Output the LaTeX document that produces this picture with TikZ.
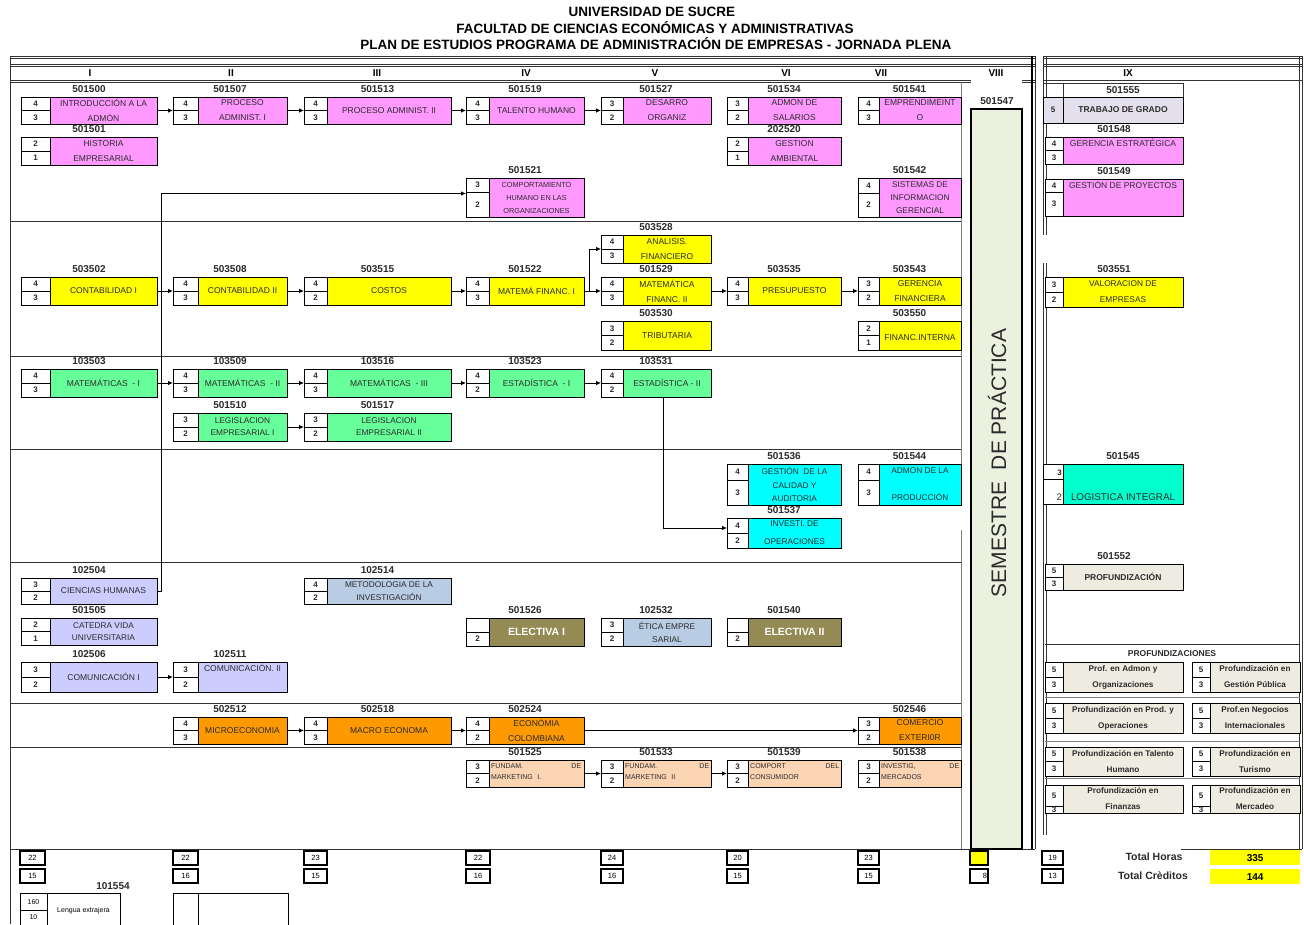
\documentclass[tikz,border=0pt]{standalone}
\usepackage{fontspec}
\setmainfont{Liberation Sans}
\usetikzlibrary{arrows.meta}
\definecolor{cpink}{HTML}{FF99FF}
\definecolor{cyel}{HTML}{FFFF00}
\definecolor{cgrn}{HTML}{66FF99}
\definecolor{ccyan}{HTML}{00FFFF}
\definecolor{clav}{HTML}{CCCCFF}
\definecolor{cstb}{HTML}{B8CCE4}
\definecolor{colive}{HTML}{948A54}
\definecolor{corng}{HTML}{FF9900}
\definecolor{cpeach}{HTML}{FBD4B4}
\definecolor{caqua}{HTML}{00FFCC}
\definecolor{cbeige}{HTML}{EEECE1}
\definecolor{clgrey}{HTML}{E4DFEC}
\definecolor{cpract}{HTML}{EBF1DE}
\definecolor{ctxt}{HTML}{2B2B2B}
\newcommand\myfs[2]{\fontsize{#1}{#2}\selectfont}
\def\spl{}
\newcommand\setsplit[1]{\gdef\spl{#1}}
\def\colAI{21}\def\colBI{50}\def\colCI{157}
\def\colAII{173}\def\colBII{198}\def\colCII{287}
\def\colAIII{304}\def\colBIII{327}\def\colCIII{451}
\def\colAIV{466}\def\colBIV{489}\def\colCIV{584}
\def\colAV{601}\def\colBV{623}\def\colCV{711}
\def\colAVI{727}\def\colBVI{748}\def\colCVI{841}
\def\colAVII{858}\def\colBVII{879}\def\colCVII{961}
\def\colAIX{1045}\def\colBIX{1063}\def\colCIX{1183}
\def\colAPa{1045}\def\colBPa{1063}\def\colCPa{1183}
\def\colAPb{1192}\def\colBPb{1210}\def\colCPb{1300}
% #1 name, #2 column, #3 top, #4 bottom, #5 fill, #6 code, #7 upper number, #8 lower number, #9 text
\newcommand\crs[9]{%
  \edef\cXa{\csname colA#2\endcsname}%
  \edef\cXb{\csname colB#2\endcsname}%
  \edef\cXc{\csname colC#2\endcsname}%
  \ifx\spl\empty\pgfmathsetmacro\cYm{(#3+#4)/2}\else\edef\cYm{\spl}\fi
  \pgfmathsetmacro\cXn{(\cXa+\cXb)/2}%
  \pgfmathsetmacro\cXm{(\cXa+\cXc)/2}%
  \pgfmathsetmacro\cYu{(#3+\cYm)/2}%
  \pgfmathsetmacro\cYl{(\cYm+#4)/2}%
  \pgfmathsetmacro\cYc{#3-8}%
  \node[ncell,minimum width={(\cXb-\cXa)*1pt},minimum height={(#4-#3)*1pt}] (#1n) at (\cXa,#3) {};
  \node[cbox,fill=#5,minimum width={(\cXc-\cXb)*1pt},minimum height={(#4-#3)*1pt}] (#1) at (\cXb,#3) {};
  \draw[cellrule] (\cXa,\cYm) -- (\cXb,\cYm);
  \node[cnum] (#1u) at (\cXn,\cYu) {#7};
  \node[cnum] (#1l) at (\cXn,\cYl) {#8};
  \if\relax\detokenize{#6}\relax\else\node[ccode] (#1k) at (\cXm,\cYc) {#6};\fi
  \node[btext,curts] (#1t) at (#1.center) {#9};
  \tikzset{curts/.style={}}%
  \gdef\spl{}%
}
\newcommand\pcrs[5]{\tikzset{curts/.style={font=\myfs{8.2}{16}\bfseries}}\crs{#1}{#2}{#3}{#4}{cbeige}{}{5}{3}{#5}}
\begin{document}
\begin{tikzpicture}[x=1pt,y=-1pt,
  cbox/.style={draw=black,line width=0.9pt,inner sep=0pt,outer sep=0pt,anchor=north west},
  ncell/.style={cbox,fill=white},
  cellrule/.style={line width=0.7pt},
  ccode/.style={font=\myfs{10}{10}\bfseries,text=ctxt,inner sep=0pt},
  cnum/.style={font=\myfs{8}{8}\bfseries,text=ctxt,inner sep=0pt},
  btext/.style={font=\myfs{8.5}{15},align=center,text=ctxt,inner sep=0pt},
  mtext/.style={font=\myfs{7}{10.5},align=left,text=ctxt,inner sep=0pt,anchor=north west},
  ttl/.style={font=\myfs{13.5}{14}\bfseries,inner sep=0pt},
  rom/.style={font=\myfs{10}{10}\bfseries,inner sep=0pt},
  arr/.style={-{Latex[length=5pt,width=4.5pt]},line width=0.8pt},
  frule/.style={line width=0.8pt,draw=black!80},
  trule/.style={line width=0.6pt,draw=black!50},
  tot/.style={draw=black,line width=1.3pt,inner sep=0pt,outer sep=0pt,anchor=north west,minimum height=14pt,font=\myfs{7.5}{8}},
  curts/.style={}]
\useasboundingbox (0,0) rectangle (1304,924);
\fill[white] (0,0) rectangle (1304,924);
% titles
\node[ttl] (t1) at (652,12) {UNIVERSIDAD DE SUCRE};
\node[ttl] (t2) at (655,28) {FACULTAD DE CIENCIAS ECONÓMICAS Y ADMINISTRATIVAS};
\node[ttl] (t3) at (656,44) {PLAN DE ESTUDIOS PROGRAMA DE ADMINISTRACIÓN DE EMPRESAS - JORNADA PLENA};
% left frame
\draw[frule] (10,56) -- (1035,56) (10,58.5) -- (1035,58.5) (10,64) -- (1035,64) (10,66.5) -- (1035,66.5);
\draw[frule] (10,80) -- (971,80) (1022,80) -- (1035,80) (10,82.5) -- (971,82.5) (1022,82.5) -- (1035,82.5);
\draw[frule] (10,56) -- (10,924);
\draw[line width=1.5pt] (1032,56) -- (1032,849);
\draw[frule] (1035.5,56) -- (1035.5,849);
\draw[trule] (961,82) -- (961,505) (961,530) -- (961,849);
\foreach \yy in {221,356,449,562,703,747} \draw[frule] (10,\yy) -- (961,\yy);
\draw[frule] (10,849) -- (1035,849);
% right frame
\draw[frule] (1043,56) -- (1302,56) (1043,58.5) -- (1302,58.5) (1043,64) -- (1302,64) (1043,66.5) -- (1302,66.5) (1043,80) -- (1302,80);
\draw[frule] (1043,56) -- (1043,235) (1046,56) -- (1046,235) (1043,263) -- (1043,464) (1046,263) -- (1046,464) (1043,505) -- (1043,835) (1046,505) -- (1046,835);
\draw[frule] (1299,56) -- (1299,849) (1302,56) -- (1302,849);
\draw[frule] (1045,644) -- (1300,644);
\draw[trule] (1045,697) -- (1300,697) (1045,741) -- (1300,741) (1045,778) -- (1300,778);
\draw[frule] (1181,849) -- (1302,849);
% semester numerals
\foreach \r/\xx [count=\i] in {I/90,II/231,III/377,IV/526,V/655,VI/786,VII/881,VIII/996,IX/1128}
  \node[rom] (rom\i) at (\xx,73) {\r};
% ---- row 1 (pink)
\crs{c501500}{I}{97}{124}{cpink}{501500}{4}{3}{INTRODUCCIÓN A LA\\ADMÓN}
\crs{c501507}{II}{97}{124}{cpink}{501507}{4}{3}{PROCESO\\ADMINIST. I}
\crs{c501513}{III}{97}{124}{cpink}{501513}{4}{3}{PROCESO ADMINIST. II}
\crs{c501519}{IV}{97}{124}{cpink}{501519}{4}{3}{TALENTO HUMANO}
\crs{c501527}{V}{97}{124}{cpink}{501527}{3}{2}{DESARRO\\ORGANIZ}
\crs{c501534}{VI}{97}{124}{cpink}{501534}{3}{2}{ADMON DE\\SALARIOS}
\crs{c501541}{VII}{97}{124}{cpink}{501541}{4}{3}{EMPRENDIMEINT\\O}
\crs{c501501}{I}{137}{165}{cpink}{501501}{2}{1}{HISTORIA\\EMPRESARIAL}
\crs{c202520}{VI}{137}{165}{cpink}{202520}{2}{1}{GESTION\\AMBIENTAL}
\tikzset{curts/.style={font=\myfs{7.3}{13}}}\setsplit{192}
\crs{c501521}{IV}{178}{217}{cpink}{501521}{3}{2}{COMPORTAMIENTO\\HUMANO EN LAS\\ORGANIZACIONES}
\tikzset{curts/.style={font=\myfs{8.3}{13}}}\setsplit{193}
\crs{c501542}{VII}{178}{217}{cpink}{501542}{4}{2}{SISTEMAS DE\\INFORMACION\\GERENCIAL}
% ---- row 2 (yellow)
\crs{c503528}{V}{235}{263}{cyel}{503528}{4}{3}{ANALISIS.\\FINANCIERO}
\crs{c503502}{I}{277}{305}{cyel}{503502}{4}{3}{CONTABILIDAD I}
\crs{c503508}{II}{277}{305}{cyel}{503508}{4}{3}{CONTABILIDAD II}
\crs{c503515}{III}{277}{305}{cyel}{503515}{4}{2}{COSTOS}
\crs{c501522}{IV}{277}{305}{cyel}{501522}{4}{3}{MATEMÁ FINANC. I}
\crs{c501529}{V}{277}{305}{cyel}{501529}{4}{3}{MATEMÁTICA\\FINANC. II}
\crs{c503535}{VI}{277}{305}{cyel}{503535}{4}{3}{PRESUPUESTO}
\crs{c503543}{VII}{277}{305}{cyel}{503543}{3}{2}{GERENCIA\\FINANCIERA}
\crs{c503530}{V}{321}{350}{cyel}{503530}{3}{2}{TRIBUTARIA}
\crs{c503550}{VII}{321}{350}{cyel}{503550}{2}{1}{}
\node[btext] (c503550x) at (920,338) {FINANC.INTERNA};
% ---- row 3 (green)
\crs{c103503}{I}{369}{397}{cgrn}{103503}{4}{3}{MATEMÁTICAS\ \ - I}
\crs{c103509}{II}{369}{397}{cgrn}{103509}{4}{3}{MATEMÁTICAS\ \ - II}
\crs{c103516}{III}{369}{397}{cgrn}{103516}{4}{3}{MATEMÁTICAS\ \ - III}
\crs{c103523}{IV}{369}{397}{cgrn}{103523}{4}{2}{ESTADÍSTICA\ \ - I}
\crs{c103531}{V}{369}{397}{cgrn}{103531}{4}{2}{ESTADÍSTICA - II}
\tikzset{curts/.style={font=\myfs{8.3}{12}}}
\crs{c501510}{II}{413}{441}{cgrn}{501510}{3}{2}{LEGISLACION\\EMPRESARIAL I}
\tikzset{curts/.style={font=\myfs{8.3}{12}}}
\crs{c501517}{III}{413}{441}{cgrn}{501517}{3}{2}{LEGISLACION\\EMPRESARIAL II}
% ---- row 4 (cyan)
\tikzset{curts/.style={font=\myfs{8.3}{13.5}}}\setsplit{480}
\crs{c501536}{VI}{464}{505}{ccyan}{501536}{4}{3}{GESTIÓN\ \ DE LA\\CALIDAD Y\\AUDITORIA}
\tikzset{curts/.style={font=\myfs{8.3}{13.5}}}\setsplit{480}
\crs{c501544}{VII}{464}{505}{ccyan}{501544}{4}{3}{ADMON DE LA\\[13.5pt]PRODUCCIÓN}
\tikzset{curts/.style={font=\myfs{8.3}{18}}}
\crs{c501537}{VI}{518}{548}{ccyan}{501537}{4}{2}{INVESTI. DE\\OPERACIONES}
% ---- row 5 (lavender)
\crs{c102504}{I}{578}{604}{clav}{102504}{3}{2}{CIENCIAS HUMANAS}
\tikzset{curts/.style={font=\myfs{8.3}{13}}}
\crs{c102514}{III}{578}{604}{cstb}{102514}{4}{2}{METODOLOGIA DE LA\\INVESTIGACIÓN}
\tikzset{curts/.style={font=\myfs{8.3}{12.5}}}
\crs{c501505}{I}{618}{645}{clav}{501505}{2}{1}{CATEDRA VIDA\\UNIVERSITARIA}
\tikzset{curts/.style={text=white,font=\myfs{10.5}{12}\bfseries}}
\crs{c501526}{IV}{618}{646}{colive}{501526}{}{2}{ELECTIVA I}
\tikzset{curts/.style={font=\myfs{8.3}{13}}}
\crs{c102532}{V}{618}{646}{cstb}{102532}{3}{2}{ÉTICA EMPRE\\SARIAL}
\tikzset{curts/.style={text=white,font=\myfs{10.5}{12}\bfseries}}
\crs{c501540}{VI}{618}{646}{colive}{501540}{}{2}{ELECTIVA II}
\crs{c102506}{I}{662}{692}{clav}{102506}{3}{2}{COMUNICACIÓN I}
\crs{c102511}{II}{662}{692}{clav}{102511}{3}{2}{}
\node[btext,anchor=north] (c102511x) at (242.5,664) {COMUNICACIÓN. II};
% ---- row 6 (orange)
\crs{c502512}{II}{717}{744}{corng}{502512}{4}{3}{MICROECONOMIA}
\crs{c502518}{III}{717}{744}{corng}{502518}{4}{3}{MACRO ECONOMA}
\crs{c502524}{IV}{717}{744}{corng}{502524}{4}{2}{ECONÓMIA\\COLOMBIANA}
\crs{c502546}{VII}{717}{744}{corng}{502546}{3}{2}{COMERCIO\\EXTERI0R}
% ---- row 7 (marketing)
\crs{c501525}{IV}{760}{787}{cpeach}{501525}{3}{2}{}
\crs{c501533}{V}{760}{787}{cpeach}{501533}{3}{2}{}
\crs{c501539}{VI}{760}{787}{cpeach}{501539}{3}{2}{}
\crs{c501538}{VII}{760}{787}{cpeach}{501538}{3}{2}{}
\node[mtext,text width=90pt] (c501525x) at (491,763.5) {FUNDAM.\hfill DE\\MARKETING\ \ I.};
\node[mtext,text width=84pt] (c501533x) at (625,763.5) {FUNDAM.\hfill DE\\MARKETING\ \ II};
\node[mtext,text width=89pt] (c501539x) at (750,763.5) {COMPORT\hfill DEL\\CONSUMIDOR};
\node[mtext,text width=78pt] (c501538x) at (881,763.5) {INVESTIG,\hfill DE\\MERCADOS};
% ---- VIII
\node[ccode] (k501547) at (997,101) {501547};
\node[draw=black,line width=1.6pt,fill=cpract,anchor=north west,minimum width=51pt,minimum height=740pt,inner sep=0pt,outer sep=0pt] (c501547) at (971,109) {};
\node[rotate=90,font=\myfs{21}{21},text=ctxt,inner sep=0pt] (c501547t) at (997,463) {SEMESTRE\ \ DE PRÁCTICA};
% ---- IX
\draw[frule] (1043,83) rectangle (1183,97) (1063,83) -- (1063,97);
\node[ccode] (k501555) at (1123,90) {501555};
\node[cbox,fill=clgrey,minimum width=20pt,minimum height=26pt] (c501555n) at (1043,97) {};
\node[cbox,fill=clgrey,minimum width=120pt,minimum height=26pt] (c501555) at (1063,97) {};
\node[cnum] (c501555u) at (1053,110) {5};
\node[btext,font=\myfs{8.5}{10}\bfseries] (c501555t) at (c501555.center) {TRABAJO DE GRADO};
\crs{c501548}{IX}{137}{164}{cpink}{501548}{4}{3}{}
\node[btext,anchor=north] (c501548x) at (1123,139) {GERENCIA ESTRATÉGICA};
\setsplit{192}
\crs{c501549}{IX}{179}{216}{cpink}{501549}{4}{3}{}
\node[btext,anchor=north] (c501549x) at (1123,181) {GESTIÓN DE PROYECTOS};
\tikzset{curts/.style={font=\myfs{8.3}{16}}}
\crs{c503551}{IX}{277}{307}{cyel}{503551}{3}{2}{VALORACION DE\\EMPRESAS}
\node[ccode] (k501545) at (1123,456) {501545};
\node[cbox,fill=white,minimum width=20pt,minimum height=40pt] (c501545n) at (1043,464) {};
\node[cbox,fill=caqua,minimum width=120pt,minimum height=40pt] (c501545) at (1063,464) {};
\draw[cellrule] (1043,479) -- (1063,479);
\node[cnum,anchor=east] (c501545u) at (1062,473) {3};
\node[cnum,anchor=east,font=\myfs{9.5}{10}] (c501545l) at (1062,497) {2};
\node[btext,font=\myfs{9.8}{10}] (c501545t) at (1123,497) {LOGISTICA INTEGRAL};
\tikzset{curts/.style={font=\myfs{8.5}{10}\bfseries}}
\crs{c501552}{IX}{564}{590}{cbeige}{501552}{5}{3}{PROFUNDIZACIÓN}
% profundizaciones
\node[font=\myfs{8.5}{10}\bfseries,text=ctxt,inner sep=0pt] (profh) at (1172,654) {PROFUNDIZACIONES};
\pcrs{pA}{Pa}{662}{692}{Prof. en Admon y\\Organizaciones}
\pcrs{pB}{Pb}{662}{692}{Profundización en\\Gestión Pública}
\pcrs{pC}{Pa}{703}{733}{Profundización en Prod. y\\Operaciones}
\pcrs{pD}{Pb}{703}{733}{Prof.en Negocios\\Internacionales}
\pcrs{pE}{Pa}{747}{776}{Profundización en Talento\\Humano}
\pcrs{pF}{Pb}{747}{776}{Profundización en\\Turismo}
\setsplit{806}\pcrs{pG}{Pa}{785}{813}{Profundización en\\Finanzas}
\setsplit{806}\pcrs{pH}{Pb}{785}{813}{Profundización en\\Mercadeo}
% ---- totals
\foreach \xl/\xr/\ta/\tb [count=\i] in {20/45/22/15,173/198/22/16,304/327/23/15,466/490/22/16,601/623/24/16,727/748/20/15,858/879/23/15,1042/1063/19/13}{
  \node[tot,minimum width={(\xr-\xl)*1pt}] (ta\i) at (\xl,851) {\ta};
  \node[tot,minimum width={(\xr-\xl)*1pt}] (tb\i) at (\xl,869) {\tb};
}
\node[tot,fill=cyel,minimum width=18pt] (ta8x) at (970,851) {};
\node[tot,minimum width=18pt,align=right,text width=16pt] (tb8x) at (970,869) {8};
\node[font=\myfs{10.5}{11}\bfseries,text=ctxt,inner sep=0pt] (thl) at (1154,857) {Total Horas};
\node[font=\myfs{10.5}{11}\bfseries,text=ctxt,inner sep=0pt] (tcl) at (1153,876) {Total Crèditos};
\node[fill=cyel,anchor=north west,minimum width=90pt,minimum height=15pt,inner sep=0pt,font=\myfs{10}{11}\bfseries] (thv) at (1210,850) {335};
\node[fill=cyel,anchor=north west,minimum width=90pt,minimum height=15pt,inner sep=0pt,font=\myfs{10}{11}\bfseries] (tcv) at (1210,869) {144};
% ---- 101554
\node[ccode] (k101554) at (113,886) {101554};
\node[cbox,line width=0.8pt,minimum width=27pt,minimum height=34pt] (c101554n) at (20,893) {};
\node[cbox,line width=0.8pt,minimum width=73pt,minimum height=34pt] (c101554) at (47,893) {};
\draw[cellrule] (20,910) -- (47,910);
\node[font=\myfs{7}{8},inner sep=0pt] (c101554u) at (33.5,902) {160};
\node[font=\myfs{7}{8},inner sep=0pt] (c101554l) at (33.5,917) {10};
\node[font=\myfs{7}{8},inner sep=0pt] (c101554t) at (83.5,911) {Lengua extrajera};
\node[cbox,line width=0.8pt,minimum width=25pt,minimum height=34pt] (cextn) at (173,893) {};
\node[cbox,line width=0.8pt,minimum width=90pt,minimum height=34pt] (cext) at (198,893) {};
% ---- connectors
\draw[arr] (c501500.east) -- (c501507n.west);
\draw[arr] (c501507.east) -- (c501513n.west);
\draw[arr] (c501513.east) -- (c501519n.west);
\draw[arr] (c501519.east) -- (c501527n.west);
\draw[arr] (c102504.east) -- ++(4,0) |- ([yshift=4pt]c501521n.west);
\draw[arr] (c503502.east) -- (c503508n.west);
\draw[arr] (c503508.east) -- (c503515n.west);
\draw[arr] (c503515.east) -- (c501522n.west);
\draw[arr] (c501522.east) -- (c501529n.west);
\draw[arr] (c501522.east) -- ++(5,0) |- (c503528n.west);
\draw[arr] (c501529.east) -- (c503535n.west);
\draw[arr] (c503535.east) -- (c503543n.west);
\draw[arr] (c103503.east) -- (c103509n.west);
\draw[arr] (c103509.east) -- (c103516n.west);
\draw[arr] (c103516.east) -- (c103523n.west);
\draw[arr] (c103523.east) -- (c103531n.west);
\draw[arr] (c501510.east) -- (c501517n.west);
\draw[arr] ([xshift=-4pt]c103531.south) |- ([yshift=5pt]c501537n.west);
\draw[arr] (c102506.east) -- (c102511n.west);
\draw[arr] (c502512.east) -- (c502518n.west);
\draw[arr] (c502518.east) -- (c502524n.west);
\draw[arr] (c502524.east) -- (c502546n.west);
\draw[arr] (c501525.east) -- (c501533n.west);
\draw[arr] (c501533.east) -- (c501539n.west);
\end{tikzpicture}
\end{document}
